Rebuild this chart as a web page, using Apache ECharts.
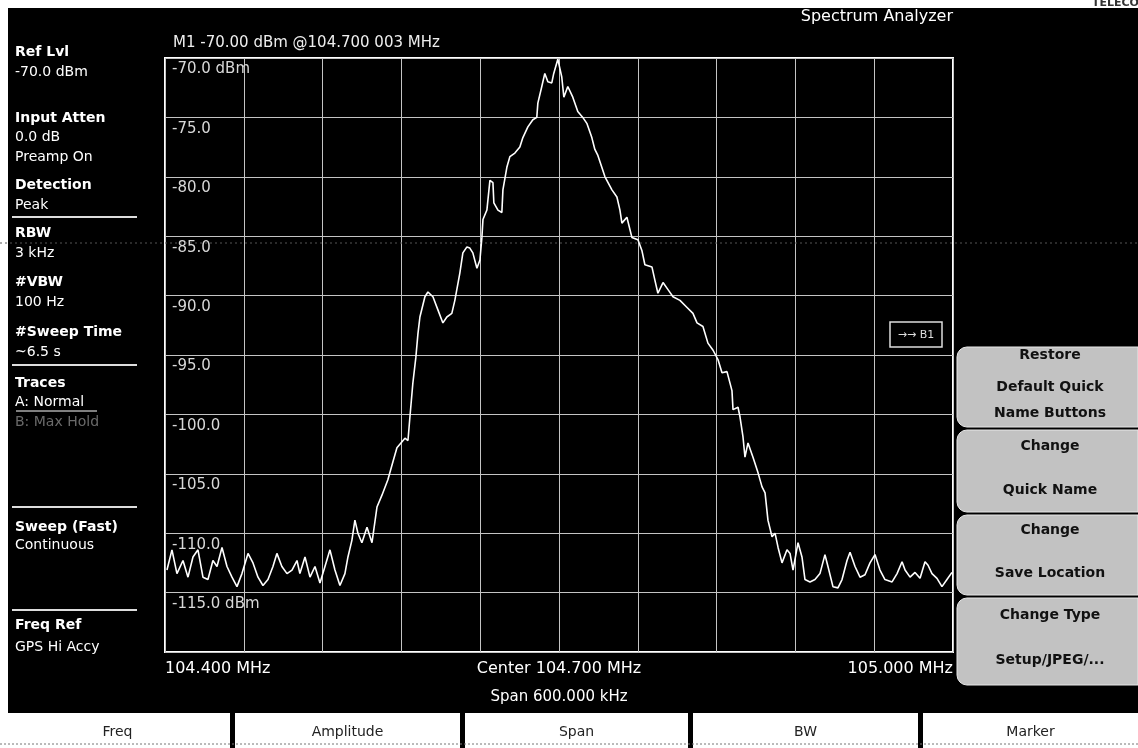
<!DOCTYPE html>
<html><head><meta charset="utf-8">
<script src="https://cdn.jsdelivr.net/npm/echarts/dist/echarts.min.js"></script>
<style>
html,body{margin:0;padding:0;background:#fff;overflow:hidden;}
#bg{position:absolute;left:8px;top:8px;width:1130px;height:705px;background:#000;}
#chart{position:absolute;left:0;top:0;width:1138px;height:748px;}
</style></head><body>
<div id="bg"></div><div id="chart"></div>
<script>
// ---- trace data (frequency in MHz, level in dBm) ----
const freqMHz = [
104.4015,104.4053,104.4091,104.4137,104.4175,104.4213,104.4251,104.4289,104.4327,104.4365,
104.4396,104.4434,104.4472,104.4510,104.4548,104.4586,104.4632,104.4670,104.4708,104.4746,
104.4784,104.4822,104.4852,104.4890,104.4929,104.4967,104.5005,104.5027,104.5066,104.5104,
104.5142,104.5180,104.5218,104.5256,104.5294,104.5332,104.5370,104.5393,104.5423,104.5446,
104.5469,104.5499,104.5538,104.5576,104.5614,104.5652,104.5697,104.5735,104.5766,104.5827,
104.5850,104.5865,104.5887,104.5910,104.5926,104.5941,104.5979,104.6002,104.6040,104.6078,
104.6116,104.6146,104.6184,104.6207,104.6245,104.6268,104.6299,104.6321,104.6344,104.6375,
104.6398,104.6413,104.6421,104.6451,104.6474,104.6497,104.6504,104.6535,104.6565,104.6573,
104.6603,104.6626,104.6664,104.6702,104.6725,104.6763,104.6801,104.6831,104.6839,104.6869,
104.6892,104.6915,104.6945,104.6960,104.6991,104.7000,104.7021,104.7037,104.7067,104.7105,
104.7143,104.7181,104.7212,104.7250,104.7273,104.7296,104.7326,104.7350,104.7403,104.7441,
104.7464,104.7479,104.7517,104.7555,104.7601,104.7631,104.7654,104.7708,104.7730,104.7753,
104.7792,104.7830,104.7868,104.7921,104.7975,104.8020,104.8051,104.8096,104.8134,104.8173,
104.8211,104.8241,104.8279,104.8317,104.8325,104.8363,104.8378,104.8401,104.8416,104.8439,
104.8477,104.8515,104.8546,104.8569,104.8591,104.8622,104.8645,104.8668,104.8698,104.8736,
104.8759,104.8782,104.8820,104.8850,104.8873,104.8911,104.8949,104.8987,104.9025,104.9048,
104.9086,104.9124,104.9155,104.9193,104.9216,104.9254,104.9292,104.9330,104.9368,104.9406,
104.9444,104.9482,104.9536,104.9574,104.9612,104.9635,104.9673,104.9711,104.9749,104.9787,
104.9810,104.9840,104.9878,104.9916,104.9954,104.9992];
const levelDbm = [
-113.1,-111.4,-113.4,-112.3,-113.7,-112.0,-111.4,-113.7,-113.9,-112.3,
-112.8,-111.2,-112.8,-113.7,-114.5,-113.4,-111.7,-112.5,-113.7,-114.4,
-113.9,-112.8,-111.7,-112.8,-113.4,-113.1,-112.3,-113.4,-112.0,-113.7,
-112.8,-114.2,-112.8,-111.4,-113.1,-114.4,-113.4,-112.0,-110.6,-108.9,
-110.0,-110.8,-109.5,-110.8,-107.8,-106.8,-105.5,-104.0,-102.8,-102.0,
-102.2,-100.2,-97.4,-95.2,-93.2,-91.8,-90.1,-89.7,-90.1,-91.2,
-92.3,-91.8,-91.5,-90.4,-88.1,-86.4,-85.9,-86.0,-86.4,-87.7,
-87.0,-85.1,-83.6,-82.8,-80.3,-80.5,-82.2,-82.8,-83.0,-81.1,
-79.2,-78.3,-78.0,-77.5,-76.7,-75.8,-75.2,-75.0,-73.8,-72.4,
-71.3,-72.0,-72.1,-71.3,-70.1,-70.0,-71.6,-73.3,-72.4,-73.3,
-74.5,-75.0,-75.5,-76.7,-77.7,-78.2,-79.2,-80.0,-81.1,-81.7,
-82.8,-83.9,-83.4,-85.1,-85.3,-86.2,-87.4,-87.6,-88.7,-89.8,
-88.9,-89.5,-90.1,-90.4,-91.0,-91.5,-92.3,-92.6,-94.0,-94.6,
-95.4,-96.5,-96.4,-98.0,-99.6,-99.4,-100.2,-101.9,-103.6,-102.4,
-103.6,-104.9,-106.1,-106.6,-108.9,-110.3,-110.0,-111.2,-112.5,-111.4,
-111.7,-113.1,-110.8,-112.0,-113.9,-114.1,-113.9,-113.4,-111.8,-112.8,
-114.5,-114.6,-113.9,-112.3,-111.6,-112.8,-113.7,-113.5,-112.5,-111.8,
-113.1,-113.9,-114.1,-113.4,-112.4,-113.1,-113.7,-113.3,-113.8,-112.4,
-112.7,-113.4,-113.8,-114.5,-113.9,-113.3];

// ---- axis settings / tick labels ----
const startKHz = 104400, stopKHz = 105000, divKHz = 60;
const refLevel = -70, bottomLevel = -120, dbPerDiv = 5;
const yTickLabels = {'-70':'-70.0 dBm','-75':'-75.0','-80':'-80.0','-85':'-85.0','-90':'-90.0',
  '-95':'-95.0','-100':'-100.0','-105':'-105.0','-110':'-110.0','-115':'-115.0 dBm'};
const xTickLabels = {'104400':'104.400 MHz','104700':'Center 104.700 MHz','105000':'105.000 MHz'};
const spanLabel = 'Span 600.000 kHz';
const markerLabel = 'M1 -70.00 dBm @104.700 003 MHz';
const titleLabel = 'Spectrum Analyzer';

// ---- side panel texts ----
const leftPanel = [
  ['Ref Lvl',52,'t'],['-70.0 dBm',72,'v'],
  ['Input Atten',118,'t'],['0.0 dB',137,'v'],['Preamp On',157,'v'],
  ['Detection',185,'t'],['Peak',205,'v'],
  ['RBW',233,'t'],['3 kHz',253,'v'],
  ['#VBW',282,'t'],['100 Hz',302,'v'],
  ['#Sweep Time',332,'t'],['~6.5 s',352,'v'],
  ['Traces',383,'t'],['A: Normal',402,'v'],['B: Max Hold',422,'d'],
  ['Sweep (Fast)',527,'t'],['Continuous',545,'v'],
  ['Freq Ref',625,'t'],['GPS Hi Accy',647,'v']
];
const leftSeparators = [217,365,507,610];
const softKeys = [
  {top:347,h:80,lines:[['Restore',355],['Default Quick',387],['Name Buttons',413]]},
  {top:430,h:82,lines:[['Change',446],['Quick Name',490]]},
  {top:515,h:80,lines:[['Change',530],['Save Location',573]]},
  {top:598,h:87,lines:[['Change Type',615],['Setup/JPEG/...',660]]}
];
const bottomKeys = [['Freq',5,230],['Amplitude',235,460],['Span',465,688],['BW',693,918],['Marker',923,1138]];

const FONT = '"DejaVu Sans", sans-serif';
function txt(text, x, y, font, fill, align) {
  return {type:'text', x:x, y:y, z:20, silent:true,
    style:{text:text, font:font, fill:fill||'#fff', textAlign:align||'left', align:align||'left',
           textVerticalAlign:'middle', verticalAlign:'middle'}};
}
const g = [];
leftPanel.forEach(function(r){
  const font = r[2]==='t' ? 'bold 14px '+FONT : '14px '+FONT;
  const fill = r[2]==='d' ? '#6a6a6a' : '#fff';
  g.push(txt(r[0], 15, r[1], font, fill));
});
g.push({type:'line', z:20, shape:{x1:16,y1:411,x2:97,y2:411}, style:{stroke:'#fff',lineWidth:1}});
leftSeparators.forEach(function(y){
  g.push({type:'line', z:20, shape:{x1:12,y1:y,x2:137,y2:y}, style:{stroke:'#ddd',lineWidth:2}});
});
// scan artefact dotted line
g.push({type:'line', z:1, shape:{x1:0,y1:243,x2:1138,y2:243}, style:{stroke:'#555',lineWidth:1,lineDash:[2,3]}});
g.push(txt(markerLabel, 173, 43, '15px '+FONT, '#eee'));
g.push(txt(titleLabel, 953, 17, '16px '+FONT, '#fff', 'right'));
g.push(txt('TELECOM', 1092, 3, 'bold 11px '+FONT, '#333'));
g.push(txt(spanLabel, 559, 697, '15px '+FONT, '#fff', 'center'));
// small trace box
g.push({type:'rect', z:20, shape:{x:890,y:322,width:52,height:25}, style:{fill:'#000',stroke:'#ddd',lineWidth:1.5}});
g.push(txt('\u2192\u2192 B1', 916, 335, '11px '+FONT, '#ddd', 'center'));
softKeys.forEach(function(k){
  g.push({type:'rect', z:20, shape:{x:957,y:k.top,width:181,height:k.h,r:[10,0,0,10]},
    style:{fill:'#c2c2c2',stroke:'#e8e8e8',lineWidth:1}});
  k.lines.forEach(function(l){ g.push(txt(l[0], 1050, l[1], 'bold 14px '+FONT, '#111', 'center')); });
});
bottomKeys.forEach(function(b){
  g.push({type:'rect', z:20, shape:{x:b[1],y:713,width:b[2]-b[1],height:35}, style:{fill:'#fff'}});
  g.push(txt(b[0], (b[1]+b[2])/2, 732, '14px '+FONT, '#222', 'center'));
});
[230,460,688,918].forEach(function(x){
  g.push({type:'rect', z:20, shape:{x:x,y:713,width:5,height:35}, style:{fill:'#000'}});
});
g.push({type:'line', z:21, shape:{x1:0,y1:744,x2:1138,y2:744}, style:{stroke:'#777',lineWidth:1,lineDash:[2,2]}});

const traceData = freqMHz.map(function(f,i){ return [Math.round(f*10000)/10, levelDbm[i]]; });

const chart = echarts.init(document.getElementById('chart'), null, {renderer:'canvas'});
chart.setOption({
  backgroundColor:'transparent',
  animation:false,
  grid:{left:165, right:185, top:58, bottom:96, show:true, borderColor:'#fff', borderWidth:2, backgroundColor:'transparent'},
  xAxis:{type:'value', min:startKHz, max:stopKHz, interval:divKHz,
    axisLine:{show:false}, axisTick:{show:false},
    splitLine:{show:true, lineStyle:{color:'#c4c4c4', width:1}},
    axisLabel:{show:true, color:'#fff', fontSize:16, fontFamily:'DejaVu Sans', margin:9,
      showMinLabel:true, showMaxLabel:true, alignMinLabel:'left', alignMaxLabel:'right',
      formatter:function(v){ return xTickLabels[String(Math.round(v))] || ''; }}},
  yAxis:{type:'value', min:bottomLevel, max:refLevel, interval:dbPerDiv,
    axisLine:{show:false}, axisTick:{show:false},
    splitLine:{show:true, lineStyle:{color:'#c4c4c4', width:1}},
    axisLabel:{show:true, inside:true, color:'#d8d8d8', fontSize:15, fontFamily:'DejaVu Sans',
      margin:7, align:'left', verticalAlign:'top', padding:[4,0,0,0],
      showMinLabel:true, showMaxLabel:true,
      formatter:function(v){ return yTickLabels[String(Math.round(v))] || ''; }}},
  graphic:{elements:g},
  series:[{type:'line', data:traceData, showSymbol:false, symbol:'none', clip:true,
    lineStyle:{color:'#ffffff', width:1.6}, z:5}]
});
</script>
</body></html>
